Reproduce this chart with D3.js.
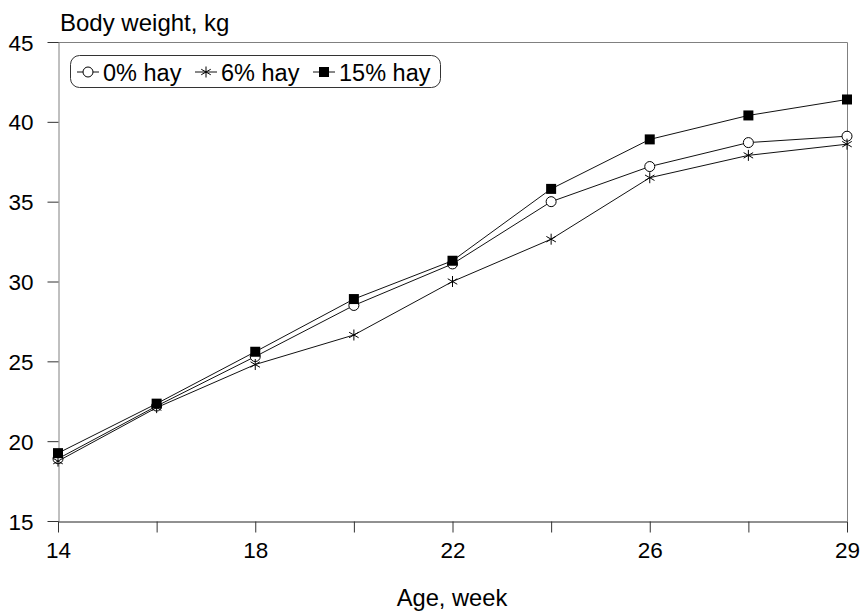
<!DOCTYPE html>
<html>
<head>
<meta charset="utf-8">
<script src="https://cdn.jsdelivr.net/npm/d3@7"></script>
<style>
  body { margin: 0; background: #fff; }
  svg { display: block; font-family: "Liberation Sans", Arial, sans-serif; }
</style>
</head>
<body>
<svg id="chart" width="861" height="611"></svg>
<script>
// Data
const weeks = ["14", "16", "18", "20", "22", "24", "26", "28", "29"];
const hay0  = [18.9, 22.2, 25.3, 28.5, 31.1, 35.0, 37.2, 38.7, 39.1];
const hay6  = [18.75, 22.1, 24.8, 26.65, 30.0, 32.65, 36.5, 37.9, 38.6];
const hay15 = [19.25, 22.35, 25.6, 28.9, 31.3, 35.8, 38.9, 40.4, 41.4];
const seriesNames = ["0% hay", "6% hay", "15% hay"];
const yTicks = [15, 20, 25, 30, 35, 40, 45];
const xTickLabels = ["14", "", "18", "", "22", "", "26", "", "29"];

const svg = d3.select("#chart");
const pLeft = 58, pRight = 847, pTop = 42, pBottom = 521;

const x = d3.scalePoint().domain(weeks).range([pLeft, pRight]).padding(0);
const y = d3.scaleLinear().domain([15, 45]).range([pBottom, pTop]);

// frame (top and right)
svg.append("path")
  .attr("d", `M${pLeft},${pTop + 0.5}H${pRight + 0.5}V${pBottom}`)
  .attr("fill", "none").attr("stroke", "#808080").attr("stroke-width", 1);

// y axis
const gy = svg.append("g").attr("transform", `translate(${pLeft + 0.5},0)`)
  .call(d3.axisLeft(y).tickValues(yTicks).tickSize(11).tickPadding(14).tickSizeOuter(0));
gy.select(".domain").attr("stroke", "#808080");
gy.selectAll(".tick line").attr("stroke", "#333");
gy.selectAll(".tick text").attr("font-size", 22.5).attr("fill", "#000")
  .attr("font-family", "Liberation Sans, Arial, sans-serif").attr("dy", "0.36em");

// x axis
const gx = svg.append("g").attr("transform", `translate(0,${pBottom + 0.5})`)
  .call(d3.axisBottom(x).tickSize(11).tickPadding(10).tickSizeOuter(0)
    .tickFormat((d, i) => xTickLabels[i]));
gx.select(".domain").attr("stroke", "#222");
gx.selectAll(".tick line").attr("stroke", "#333");
gx.selectAll(".tick text").attr("font-size", 22.5).attr("fill", "#000")
  .attr("font-family", "Liberation Sans, Arial, sans-serif");

// titles
svg.append("text").attr("x", 60).attr("y", 31).attr("font-size", 24).text("Body weight, kg");
svg.append("text").attr("x", 452).attr("y", 606).attr("text-anchor", "middle")
  .attr("font-size", 23.7).text("Age, week");

// marker drawing
function drawMarker(g, type, cx, cy) {
  if (type === 0) {
    g.append("circle").attr("cx", cx).attr("cy", cy).attr("r", 5)
      .attr("fill", "#fff").attr("stroke", "#000").attr("stroke-width", 1);
  } else if (type === 1) {
    const r = 5.5;
    const p = d3.path();
    p.moveTo(cx, cy - r); p.lineTo(cx, cy + r);
    const dx = r * Math.cos(Math.PI / 6), dy = r * Math.sin(Math.PI / 6);
    p.moveTo(cx - dx, cy - dy); p.lineTo(cx + dx, cy + dy);
    p.moveTo(cx - dx, cy + dy); p.lineTo(cx + dx, cy - dy);
    g.append("path").attr("d", p.toString()).attr("stroke", "#000")
      .attr("stroke-width", 1).attr("fill", "none");
  } else {
    g.append("rect").attr("x", cx - 5).attr("y", cy - 5).attr("width", 10).attr("height", 10)
      .attr("fill", "#000");
  }
}

const allSeries = [hay0, hay6, hay15];
const line = d3.line().x((d, i) => x(weeks[i])).y(d => y(d));

allSeries.forEach((s, k) => {
  svg.append("path").datum(s).attr("d", line)
    .attr("fill", "none").attr("stroke", "#111").attr("stroke-width", 1);
});
allSeries.forEach((s, k) => {
  const g = svg.append("g");
  s.forEach((v, i) => drawMarker(g, k, x(weeks[i]), y(v)));
});

// legend
const lg = svg.append("g");
lg.append("rect").attr("x", 70.5).attr("y", 55.5).attr("width", 370).attr("height", 32)
  .attr("rx", 9).attr("ry", 9).attr("fill", "#fff").attr("stroke", "#333").attr("stroke-width", 1);
const legendX = [77, 195, 313];
seriesNames.forEach((name, k) => {
  const lx = legendX[k], ly = 72;
  lg.append("line").attr("x1", lx).attr("x2", lx + 22).attr("y1", ly).attr("y2", ly)
    .attr("stroke", "#111").attr("stroke-width", 1);
  drawMarker(lg, k, lx + 11, ly);
  lg.append("text").attr("x", lx + 26).attr("y", ly + 8.5).attr("font-size", 23.5).text(name);
});
</script>
</body>
</html>
